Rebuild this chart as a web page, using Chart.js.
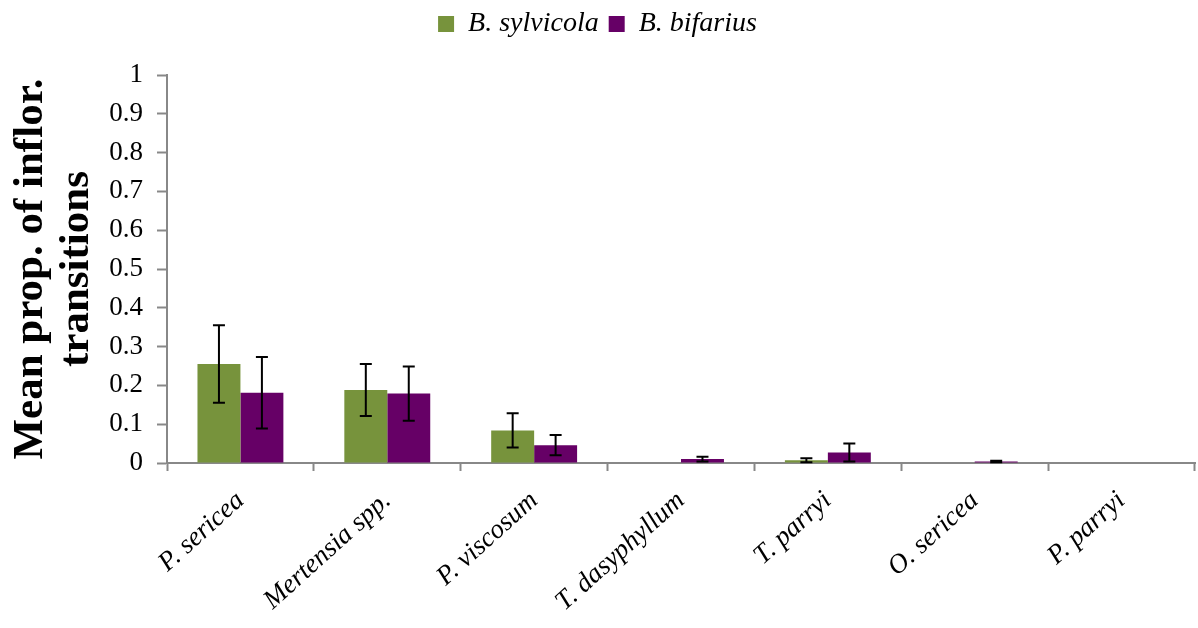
<!DOCTYPE html>
<html>
<head>
<meta charset="utf-8">
<script src="https://cdn.jsdelivr.net/npm/chart.js@4/dist/chart.umd.min.js"></script>
<style>
    html, body { margin: 0; padding: 0; background: #fff; }
    #wrap { width: 1198px; height: 628px; }
</style>
</head>
<body>
<div id="wrap"><canvas id="bar_chart" width="1198" height="628"></canvas></div>
<script>
var categorias = ["P. sericea", "Mertensia spp.", "P. viscosum", "T. dasyphyllum", "T. parryi", "O. sericea", "P. parryi"];
var sylvicola = [0.255, 0.188, 0.084, 0, 0.007, 0, 0];
var bifarius = [0.181, 0.179, 0.046, 0.010, 0.027, 0.004, 0];
var errSylvicola = [0.100, 0.067, 0.044, 0, 0.005, 0, 0];
var errBifarius = [0.092, 0.070, 0.026, 0.006, 0.023, 0.002, 0];
var yTicks = [0, 0.1, 0.2, 0.3, 0.4, 0.5, 0.6, 0.7, 0.8, 0.9, 1];

var serif = "'Liberation Serif', 'Times New Roman', serif";

// desenha as barras de erro usando as escalas do grafico
var errorBars = {
    id: 'errorBars',
    afterDatasetsDraw: function (chart) {
        var ctx = chart.ctx;
        var y = chart.scales.y;
        var erros = [errSylvicola, errBifarius];
        ctx.save();
        ctx.strokeStyle = '#000';
        ctx.lineWidth = 2;
        chart.data.datasets.forEach(function (ds, i) {
            var meta = chart.getDatasetMeta(i);
            meta.data.forEach(function (bar, j) {
                var v = ds.data[j];
                var e = erros[i][j];
                if (e <= 0) return;
                var top = y.getPixelForValue(v + e);
                var bot = y.getPixelForValue(Math.max(v - e, 0));
                ctx.beginPath();
                ctx.moveTo(bar.x, top);
                ctx.lineTo(bar.x, bot);
                ctx.moveTo(bar.x - 6, top);
                ctx.lineTo(bar.x + 6, top);
                ctx.moveTo(bar.x - 6, bot);
                ctx.lineTo(bar.x + 6, bot);
                ctx.stroke();
            });
        });
        ctx.restore();
    }
};

// espaco extra abaixo da legenda
var legendGap = {
    id: 'legendGap',
    beforeInit: function (chart) {
        var fit = chart.legend.fit;
        chart.legend.fit = function () {
            fit.bind(chart.legend)();
            this.height += 27;
        };
    }
};

new Chart(document.getElementById("bar_chart").getContext("2d"), {
    type: 'bar',
    data: {
        labels: categorias,
        datasets: [{
            label: "B. sylvicola",
            data: sylvicola,
            backgroundColor: 'rgb(119, 147, 60)',
            borderWidth: 0
        }, {
            label: "B. bifarius",
            data: bifarius,
            backgroundColor: 'rgb(102, 0, 102)',
            borderWidth: 0
        }]
    },
    options: {
        responsive: false,
        animation: false,
        layout: { padding: { top: 0, right: 3, left: 0, bottom: 0 } },
        datasets: { bar: { categoryPercentage: 0.585, barPercentage: 1.0 } },
        plugins: {
            tooltip: { enabled: false },
            legend: {
                position: 'top',
                labels: {
                    color: '#000',
                    boxWidth: 16,
                    boxHeight: 16,
                    padding: 10,
                    font: { family: serif, size: 28, style: 'italic' }
                }
            }
        },
        scales: {
            x: {
                grid: {
                    offset: true,
                    drawOnChartArea: false,
                    tickLength: 8,
                    tickColor: '#888',
                    tickWidth: 2
                },
                border: { color: '#888', width: 2 },
                ticks: {
                    color: '#000',
                    minRotation: 42,
                    maxRotation: 42,
                    padding: 14,
                    font: { family: serif, size: 27, style: 'italic' }
                },
                afterFit: function (s) { s.height = 165; }
            },
            y: {
                min: 0,
                max: 1,
                afterBuildTicks: function (s) {
                    s.ticks = yTicks.map(function (v) { return { value: v }; });
                },
                grid: {
                    drawOnChartArea: false,
                    tickLength: 10,
                    tickColor: '#888',
                    tickWidth: 2
                },
                border: { color: '#888', width: 2 },
                ticks: {
                    color: '#000',
                    padding: 14,
                    font: { family: serif, size: 27 },
                    callback: function (v) { return String(v); }
                },
                title: {
                    display: true,
                    text: ["Mean prop. of inflor.", "transitions"],
                    color: '#000',
                    padding: { top: 8, bottom: 4 },
                    font: { family: serif, size: 43, weight: 'bold', lineHeight: 1.07 }
                },
                afterFit: function (s) { s.width = 167; }
            }
        }
    },
    plugins: [errorBars, legendGap]
});
</script>
</body>
</html>
